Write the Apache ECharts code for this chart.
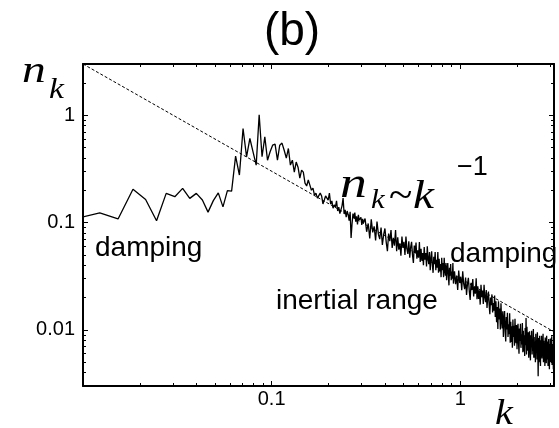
<!DOCTYPE html>
<html><head><meta charset="utf-8">
<script src="https://cdn.jsdelivr.net/npm/echarts@6/dist/echarts.min.js"></script>
<style>html,body{margin:0;padding:0;background:#fff}#c{width:559px;height:428px}</style>
</head><body><div id="c"></div>
<script>
// wavenumber grid spacing: k = n * DK
const DK = Math.PI / 1024;

// n_k, segment 1: n = 3..100 (every mode)
const lowStart = 3, lowStep = 1;
const lowValues = [0.109,0.123,0.108,0.204,0.164,0.104,0.187,0.174,0.208,0.168,
0.187,0.162,0.125,0.160,0.189,0.140,0.198,0.196,0.416,0.277,
0.752,0.410,0.607,0.453,0.343,1.01,0.410,0.629,0.381,0.456,
0.526,0.537,0.381,0.526,0.550,0.472,0.398,0.490,0.343,0.381,
0.295,0.366,0.328,0.259,0.308,0.295,0.233,0.219,0.249,0.223,
0.200,0.209,0.180,0.188,0.169,0.172,0.188,0.177,0.149,0.162,
0.177,0.184,0.162,0.188,0.149,0.159,0.136,0.146,0.139,0.159,
0.128,0.139,0.121,0.125,0.143,0.169,0.120,0.131,0.112,0.128,
0.118,0.104,0.126,0.072,0.097,0.121,0.110,0.124,0.102,0.114,
0.096,0.118,0.105,0.104,0.112,0.095,0.108,0.099];

// segment 2: n = 102..300 (every 2nd mode)
const midStart = 102, midStep = 2;
const midValues = [0.109,0.082,0.098,0.071,0.107,0.081,0.092,0.068,0.102,0.078,
0.070,0.090,0.062,0.077,0.088,0.066,0.054,0.079,0.067,0.085,
0.058,0.072,0.061,0.085,0.054,0.073,0.056,0.064,0.049,0.074,
0.058,0.066,0.050,0.074,0.057,0.051,0.067,0.047,0.059,0.066,
0.050,0.042,0.061,0.052,0.065,0.046,0.055,0.047,0.066,0.043,
0.057,0.044,0.052,0.040,0.059,0.045,0.052,0.039,0.060,0.046,
0.041,0.053,0.036,0.046,0.054,0.040,0.034,0.048,0.041,0.053,
0.036,0.045,0.038,0.053,0.034,0.046,0.035,0.041,0.031,0.047,
0.036,0.042,0.031,0.047,0.036,0.032,0.042,0.029,0.037,0.042,
0.032,0.026,0.038,0.032,0.041,0.029,0.035,0.030,0.042,0.027];

// segment 3: n = 304..1024 (every 4th mode)
const highStart = 304, highStep = 4;
const highValues = [
.0352,.0267,.0321,.0236,.0358,.0273,.0313,.0234,.0351,.0269,.0239,.0308,.0212,.0267,.0306,.0230,.0190,.0275,.0235,.0298,.0205,.0252,.0217,.0303,.0193,
.0255,.0194,.0234,.0172,.0263,.0202,.0232,.0174,.0263,.0202,.0181,.0235,.0160,.0200,.0228,.0170,.0140,.0200,.0170,.0214,.0145,.0178,.0151,.0209,.0132,
.0185,.0118,.0163,.0102,.0185,.0125,.0158,.0101,.0177,.0122,.0103,.0149,.0086,.0125,.0150,.0099,.0078,.0132,.0101,.0144,.0086,.0113,.0091,.0143,.0076,
.0119,.0077,.0108,.0068,.0125,.0086,.0109,.0071,.0127,.0088,.0075,.0111,.0066,.0095,.0114,.0076,.0060,.0103,.0079,.0114,.0068,.0091,.0073,.0116,.0062,
.0098,.0063,.0089,.0057,.0104,.0072,.0129,.0059,.0107,.0074,.0064,.0095,.0055,.0081,.0097,.0065,.0052,.0089,.0069,.0098,.0059,.0079,.0064,.0102,.0055,
.0086,.0055,.0078,.0050,.0092,.0064,.0081,.0053,.0095,.0067,.0037,.0084,.0050,.0072,.0088,.0058,.0046,.0080,.0063,.0088,.0054,.0072,.0058,.0092,.0050,
.0079,.0051,.0073,.0046,.0085,.0059,.0075,.0049,.0088,.0062,.0053,.0078,.0046,.0067,.0082,.0055,.0043,.0074,.0058,.0083,.0050,.0068,.0055,.0087,.0047,.0074,.0048,.0068,.0043,.0081,.0056];

// reference power law n_k ~ k^-1 (end points)
const lawK = [0.01, Math.PI];
const lawN = [3.0, 0.0096];

// axes
const xRange = [0.01, Math.PI];
const yRange = [0.003, 3];
const xLabels = [0.1, 1];
const xMajor = [0.1, 1];
const xMinor = [0.02,0.03,0.04,0.05,0.06,0.07,0.08,0.09,0.2,0.3,0.4,0.5,0.6,0.7,0.8,0.9,2,3];
const yLabels = [0.01, 0.1, 1];
const yMajor = [0.01, 0.1, 1];
const yMinor = [0.004,0.005,0.006,0.007,0.008,0.009,0.02,0.03,0.04,0.05,0.06,0.07,0.08,0.09,0.2,0.3,0.4,0.5,0.6,0.7,0.8,0.9,2,3];

function seg(start, step, vals, out) {
  vals.forEach((v, i) => out.push([(start + i * step) * DK, v]));
}
const mainData = [];
seg(lowStart, lowStep, lowValues, mainData);
seg(midStart, midStep, midValues, mainData);
seg(highStart, highStep, highValues, mainData);
const lawData = lawK.map((k, i) => [k, lawN[i]]);

const SANS = '"Liberation Sans", Arial, sans-serif';
const SERIF = '"Liberation Serif", "Times New Roman", serif';

function axis(kind, pos, range, ticks, len, line, labels) {
  return {
    type: 'log', logBase: 10, position: pos, min: range[0], max: range[1],
    axisLine: { show: line, onZero: false, lineStyle: { color: '#000', width: 2 } },
    axisTick: { show: true, inside: true, length: len, customValues: ticks, lineStyle: { color: '#000', width: 1 } },
    axisLabel: labels ? { show: true, customValues: labels, margin: kind === 'x' ? 3 : 8, color: '#000', fontSize: 20, fontFamily: SANS,
      formatter: v => String(+v.toPrecision(3)) } : { show: false },
    splitLine: { show: false }, minorTick: { show: false }
  };
}

function txt(x, y, s, font, sx) {
  return { type: 'text', x: x, y: y, scaleX: sx || 1,
    style: { text: s, font: font, fill: '#000', align: 'left', verticalAlign: 'middle' } };
}

const chart = echarts.init(document.getElementById('c'), null, { renderer: 'canvas' });
chart.setOption({
  animation: false,
  backgroundColor: '#fff',
  grid: { left: 83, right: 5, top: 64, bottom: 42 },
  xAxis: [
    axis('x', 'bottom', xRange, xMajor, 5, true, xLabels),
    axis('x', 'top', xRange, xMajor, 5, true, null),
    axis('x', 'bottom', xRange, xMinor, 3, false, null),
    axis('x', 'top', xRange, xMinor, 3, false, null)
  ],
  yAxis: [
    axis('y', 'left', yRange, yMajor, 5, true, yLabels),
    axis('y', 'right', yRange, yMajor, 5, true, null),
    axis('y', 'left', yRange, yMinor, 3, false, null),
    axis('y', 'right', yRange, yMinor, 3, false, null)
  ],
  series: [
    { type: 'line', xAxisIndex: 0, yAxisIndex: 0, data: mainData, symbol: 'none', silent: true,
      lineStyle: { color: '#000', width: 1.3 } },
    { type: 'line', xAxisIndex: 0, yAxisIndex: 0, data: lawData, symbol: 'none', silent: true,
      lineStyle: { color: '#000', width: 1, type: [3, 2] } }
  ],
  graphic: [
    { type: 'text', x: 292, y: 32, style: { text: '(b)', font: '46px ' + SANS, fill: '#000', align: 'center', verticalAlign: 'middle' } },
    txt(22, 72, 'n', 'italic 38px ' + SERIF, 1.25),
    txt(49, 90, 'k', 'italic 30px ' + SERIF, 1.12),
    txt(495, 415, 'k', 'italic 36px ' + SERIF, 1.12),
    txt(95, 248, 'damping', '28px ' + SANS),
    txt(450, 254, 'damping', '28px ' + SANS),
    txt(276, 301, 'inertial range', '28px ' + SANS),
    txt(340, 185, 'n', 'italic 44px ' + SERIF, 1.22),
    txt(371, 201, 'k', 'italic 28px ' + SERIF, 1.1),
    txt(389, 197, '~', '40px ' + SERIF, 1.08),
    txt(413, 197, 'k', 'italic 40px ' + SERIF, 1.18),
    txt(457, 168, '\u22121', '27px ' + SANS)
  ]
});
</script>
</body></html>
